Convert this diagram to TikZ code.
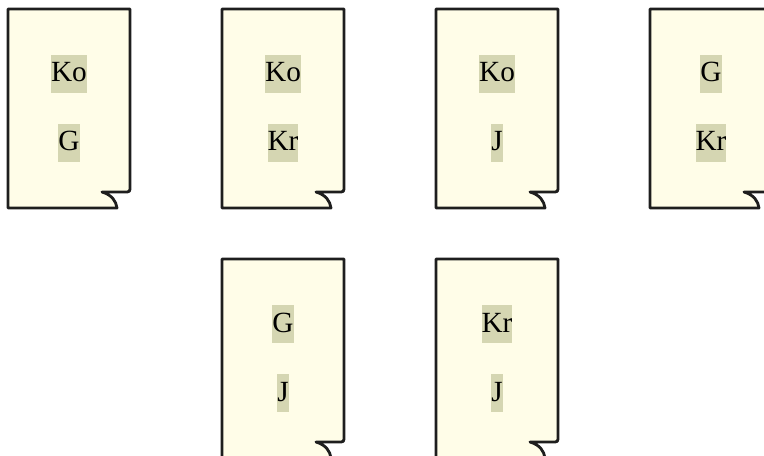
\documentclass[tikz,border=0pt]{standalone}
\usepackage{fontspec}
\setmainfont{Liberation Serif}
\usepackage{xcolor}
\usepackage{tikz}
\definecolor{paper}{RGB}{255,253,232}
\definecolor{mark}{RGB}{213,214,178}
\definecolor{ink}{RGB}{30,30,30}
\tikzset{
  sheet/.style={draw=ink, fill=paper, line width=2.4pt, line join=round},
  tag/.style={fill=mark, inner xsep=0pt, inner ysep=0pt, text height=0.8cm, text depth=0.33cm, anchor=base, font=\fontsize{25}{29}\selectfont},
  pics/docsheet/.style n args={2}{code={
    \draw[sheet] (0,0) -- (122,0) -- (122,177) .. controls (122,183) .. (116,183)
      -- (94,183) .. controls (104,186) and (108,192) .. (109,199) -- (0,199) -- cycle;
    \node[tag] (-top) at (61,73) {#1};
    \node[tag] (-bot) at (61,142) {#2};
  }}
}
\begin{document}
\begin{tikzpicture}[x=0.03cm, y=-0.03cm]
    \useasboundingbox (0,0) rectangle (764,456);
    \clip (0,0) rectangle (764,456);
    % top row
    \pic (s1) at (8,9) {docsheet={Ko}{G}};
    \pic (s2) at (222,9) {docsheet={Ko}{Kr}};
    \pic (s3) at (436,9) {docsheet={Ko}{J}};
    \pic (s4) at (650,9) {docsheet={G}{Kr}};
    % bottom row
    \pic (s5) at (222,259) {docsheet={G}{J}};
    \pic (s6) at (436,259) {docsheet={Kr}{J}};
  \end{tikzpicture}
\end{document}
